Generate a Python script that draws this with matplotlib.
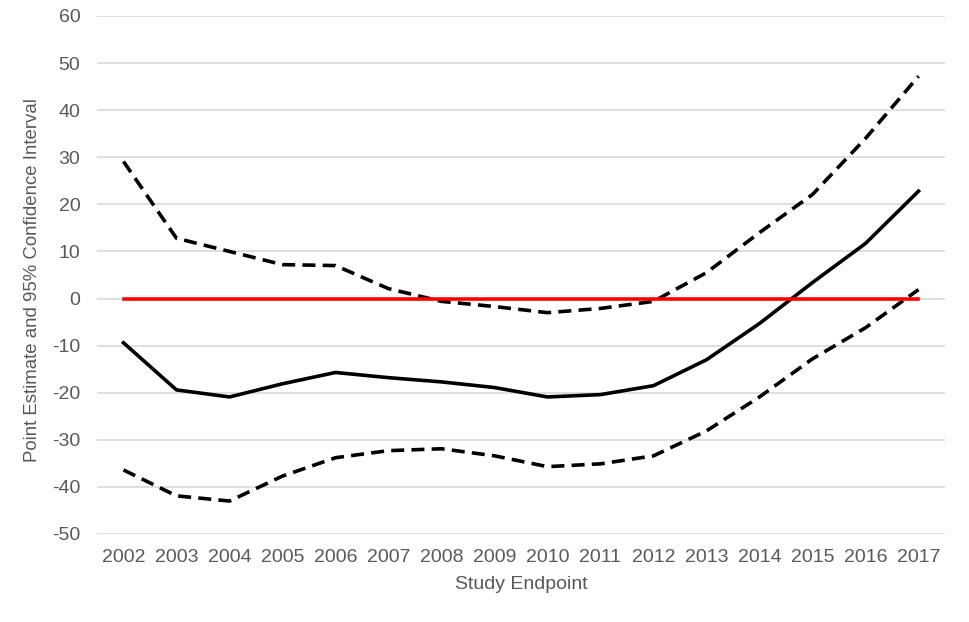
import matplotlib
matplotlib.use("Agg")
import matplotlib.pyplot as plt

years = ["2002", "2003", "2004", "2005", "2006", "2007", "2008", "2009",
         "2010", "2011", "2012", "2013", "2014", "2015", "2016", "2017"]
point_estimate = [-9.4, -19.4, -20.9, -18.1, -15.7, -16.8, -17.7, -18.9,
                  -20.9, -20.4, -18.5, -13.0, -5.3, 3.4, 11.7, 22.8]
upper_ci = [29.1, 12.8, 10.0, 7.2, 7.0, 2.1, -0.6, -1.7,
            -3.0, -2.1, -0.6, 5.5, 14.0, 22.1, 34.0, 47.2]
lower_ci = [-36.4, -41.9, -43.0, -37.7, -33.8, -32.3, -31.9, -33.4,
            -35.7, -35.1, -33.4, -28.1, -20.9, -12.8, -6.2, 1.9]
reference = [0] * 16
y_ticks = [60, 50, 40, 30, 20, 10, 0, -10, -20, -30, -40, -50]

plt.rcParams['font.family'] = ['Liberation Sans', 'DejaVu Sans']
fig = plt.figure(figsize=(9.69, 6.22), dpi=100)
W, H = 969, 622
ax = fig.add_axes([97 / W, 1 - 534 / H, (945 - 97) / W, (534 - 16) / H])

x = list(range(len(years)))
ax.plot(x, upper_ci, color='black', lw=2.6, linestyle=(0, (3.6, 2.0)), zorder=3)
ax.plot(x, lower_ci, color='black', lw=2.6, linestyle=(0, (3.6, 2.0)), zorder=3)
ax.plot(x, point_estimate, color='black', lw=2.6, zorder=3)
ax.plot(x, reference, color='#ff0000', lw=2.6, zorder=4)

ax.set_xlim(-0.5, len(years) - 0.5)
ax.set_ylim(-50, 60)
ax.set_yticks(y_ticks)
ax.set_yticklabels([str(v) for v in y_ticks])
ax.set_xticks(x)
ax.set_xticklabels(years)
ax.grid(axis='y', color='#d9d9d9', lw=1.2, zorder=0)
ax.set_axisbelow(True)
for s in ax.spines.values():
    s.set_visible(False)
ax.tick_params(axis='both', length=0, labelsize=14, labelcolor='#595959')
ax.tick_params(axis='y', pad=12)
ax.tick_params(axis='x', pad=11)
ax.set_xlabel('Study Endpoint', fontsize=14, color='#595959', labelpad=7)
ax.set_ylabel('Point Estimate and 95% Confidence Interval', fontsize=13.4,
              color='#595959', labelpad=7)
ax.yaxis.set_label_coords(-0.066, 0.49)

fig.savefig('out.png', dpi=100)
